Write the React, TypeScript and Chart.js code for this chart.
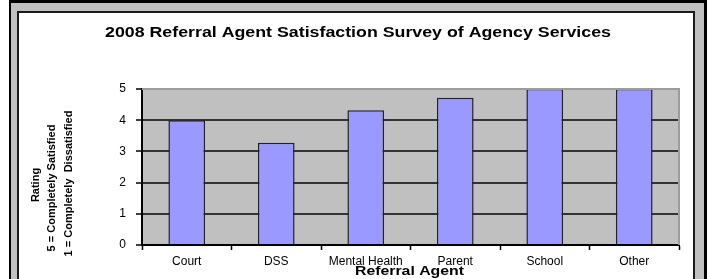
import React, { useEffect, useRef } from "react";
import { Chart, registerables } from "chart.js";

Chart.register(...registerables);

const categories = ["Court", "DSS", "Mental Health", "Parent", "School", "Other"];
const ratings = [4.0, 3.28, 4.32, 4.72, 5.0, 5.0];
const yMin = 0;
const yMax = 5;
const yStep = 1;
const chartTitle = "2008 Referral Agent Satisfaction Survey of Agency Services";
const xAxisTitle = "Referral Agent";
const yAxisTitleLines = ["Rating", "5 = Completely Satisfied", "1 = Completely  Dissatisfied"];

const FONT = 'Arial, "Liberation Sans", sans-serif';

const textPlugin = {
  id: "excelText",
  beforeDraw(chart: any) {
    const { ctx, chartArea } = chart;
    ctx.save();
    ctx.fillStyle = "#C0C0C0";
    ctx.fillRect(chartArea.left, chartArea.top, chartArea.right - chartArea.left, chartArea.bottom - chartArea.top);
    ctx.restore();
  },
  afterDatasetsDraw(chart: any) {
    const { ctx, chartArea } = chart;
    ctx.save();
    ctx.strokeStyle = "#9c9c9c";
    ctx.lineWidth = 2;
    ctx.beginPath();
    ctx.moveTo(chartArea.left, chartArea.top);
    ctx.lineTo(chartArea.right, chartArea.top);
    ctx.lineTo(chartArea.right, chartArea.bottom);
    ctx.stroke();
    ctx.restore();
  },
  afterDraw(chart: any) {
    const { ctx, chartArea } = chart;
    ctx.save();
    ctx.fillStyle = "#000";
    ctx.textBaseline = "alphabetic";
    ctx.textAlign = "center";

    // chart title
    ctx.save();
    ctx.font = `bold 14px ${FONT}`;
    ctx.translate(358, 37);
    ctx.scale(1.27, 1);
    ctx.fillText(chartTitle, 0, 0);
    ctx.restore();

    // x axis title
    ctx.save();
    ctx.font = `bold 12.5px ${FONT}`;
    ctx.translate((chartArea.left + chartArea.right) / 2 - 1, 275);
    ctx.scale(1.266, 1);
    ctx.fillText(xAxisTitle, 0, 0);
    ctx.restore();

    // y axis title (rotated)
    const baselines = [39.3, 55, 71.5];
    const centers = [185, 188, 183.5];
    ctx.font = `bold 11px ${FONT}`;
    yAxisTitleLines.forEach((line, i) => {
      ctx.save();
      ctx.translate(baselines[i], centers[i]);
      ctx.rotate(-Math.PI / 2);
      ctx.fillText(line, 0, 0);
      ctx.restore();
    });
    ctx.restore();
  },
};

export default function App() {
  const canvasRef = useRef<HTMLCanvasElement | null>(null);

  useEffect(() => {
    const canvas = canvasRef.current;
    if (!canvas) return;
    const chart = new Chart(canvas, {
      type: "bar",
      data: {
        labels: categories,
        datasets: [
          {
            data: ratings,
            backgroundColor: "#9999FF",
            borderColor: "#222222",
            borderWidth: 1.5,
            barPercentage: 0.41,
            categoryPercentage: 1,
          },
        ],
      },
      options: {
        animation: false,
        responsive: false,
        devicePixelRatio: 1,
        layout: { padding: { top: 89, right: 28, bottom: 0, left: 0 } },
        plugins: {
          legend: { display: false },
          tooltip: { enabled: false },
          title: { display: false },
        },
        scales: {
          x: {
            offset: true,
            afterFit: (scale: any) => {
              scale.height = 34;
            },
            grid: {
              offset: true,
              drawOnChartArea: false,
              drawTicks: true,
              tickLength: 5,
              tickColor: "#000",
              tickWidth: 1.5,
            },
            border: { display: true, color: "#000", width: 2 },
            ticks: {
              color: "#000",
              font: { family: FONT, size: 12 },
              padding: 4.5,
              maxRotation: 0,
              autoSkip: false,
            },
          },
          y: {
            min: yMin,
            max: yMax,
            afterFit: (scale: any) => {
              scale.width = 142;
            },
            grid: {
              color: (c: any) => (c.tick && c.tick.value === yMax ? "rgba(0,0,0,0)" : "#333333"),
              lineWidth: 2,
              drawTicks: true,
              tickLength: 6,
              tickColor: "#000",
              tickWidth: 1.5,
            },
            border: { display: true, color: "#000", width: 2 },
            ticks: {
              stepSize: yStep,
              color: "#000",
              font: { family: FONT, size: 12 },
              padding: 10,
            },
          },
        },
      },
      plugins: [textPlugin],
    });
    return () => chart.destroy();
  }, []);

  return (
    <div style={{ position: "absolute", left: 0, top: 0, width: 707, height: 279, overflow: "hidden" }}>
      <div
        style={{
          position: "absolute",
          left: 9,
          top: 0,
          width: 698,
          height: 320,
          boxSizing: "border-box",
          borderLeft: "2px solid #000",
          borderTop: "3px solid #000",
          borderRight: "3px solid #000",
          background: "#C0C0C0",
        }}
      />
      <div
        style={{
          position: "absolute",
          left: 17,
          top: 11,
          width: 678,
          height: 320,
          boxSizing: "border-box",
          border: "2px solid #1a1a1a",
          background: "#FFFFFF",
        }}
      />
      <canvas
        ref={canvasRef}
        width={707}
        height={279}
        style={{ position: "absolute", left: 0, top: 0, width: 707, height: 279 }}
      />
    </div>
  );
}
